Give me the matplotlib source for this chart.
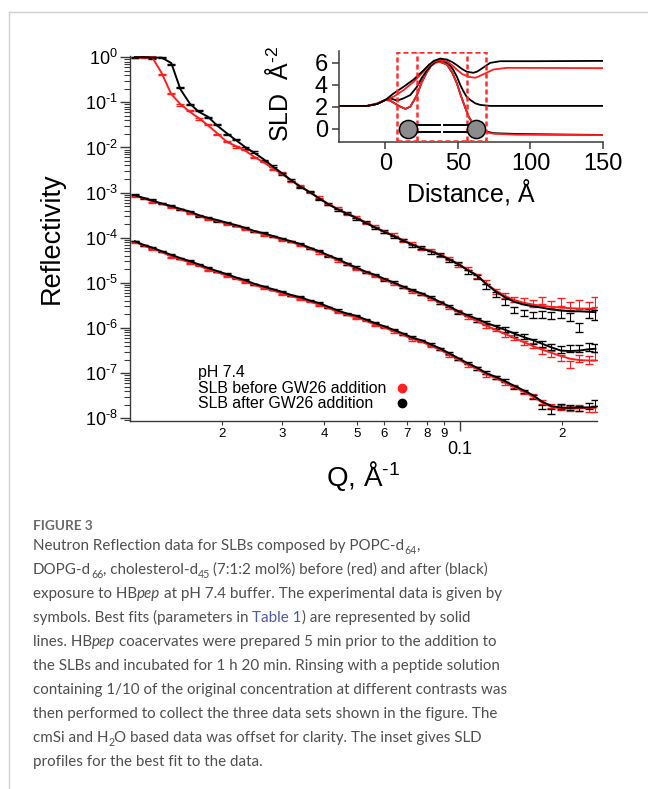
import numpy as np
import matplotlib
matplotlib.use('Agg')
import matplotlib.pyplot as plt
from matplotlib.ticker import FixedLocator, FixedFormatter, LogLocator, NullFormatter, FuncFormatter
from matplotlib.patches import Rectangle
from matplotlib.lines import Line2D
from matplotlib.mathtext import MathTextParser

# ---------------- data ----------------
# momentum transfer, 1/A
q = [0.0111, 0.0118, 0.0125, 0.0133, 0.0142, 0.0151, 0.0161, 0.0171, 0.0182, 0.0194,
     0.0207, 0.0220, 0.0234, 0.0249, 0.0265, 0.0282, 0.0300, 0.0320, 0.0340, 0.0362,
     0.0386, 0.0411, 0.0437, 0.0466, 0.0496, 0.0528, 0.0562, 0.0599, 0.0638, 0.0679,
     0.0723, 0.0770, 0.0820, 0.0873, 0.0930, 0.0990, 0.1054, 0.1123, 0.1196, 0.1273,
     0.1356, 0.1444, 0.1538, 0.1638, 0.1744, 0.1857, 0.1978, 0.2106, 0.2243, 0.2389,
     0.2500]

# log10(reflectivity), D2O contrast
d2o_after_data = [-0.01, 0.01, -0.02, 0.00, -0.16, -0.68, -1.05, -1.19, -1.34, -1.50,
                  -1.71, -1.83, -2.01, -2.10, -2.28, -2.41, -2.59, -2.72, -2.89, -2.98,
                  -3.15, -3.25, -3.39, -3.46, -3.58, -3.66, -3.79, -3.86, -3.98, -4.05,
                  -4.17, -4.22, -4.33, -4.37, -4.51, -4.57, -4.76, -4.86, -5.08, -5.25,
                  -5.42, -5.60, -5.67, -5.70, -5.69, -5.71, -5.68, -5.74, -5.98, -5.66,
                  -5.70]
d2o_after_fit = [0.00, 0.00, -0.01, -0.01, -0.13, -0.71, -1.03, -1.21, -1.32, -1.52,
                 -1.69, -1.84, -1.99, -2.12, -2.26, -2.42, -2.57, -2.73, -2.87, -2.99,
                 -3.13, -3.26, -3.37, -3.47, -3.56, -3.67, -3.77, -3.87, -3.96, -4.06,
                 -4.15, -4.24, -4.30, -4.38, -4.48, -4.59, -4.72, -4.84, -5.03, -5.19,
                 -5.32, -5.42, -5.48, -5.52, -5.55, -5.59, -5.61, -5.63, -5.63, -5.64,
                 -5.65]
d2o_before_data = [0.00, -0.01, 0.01, -0.38, -0.80, -1.06, -1.19, -1.37, -1.49, -1.71,
                   -1.86, -1.99, -2.05, -2.23, -2.31, -2.48, -2.57, -2.75, -2.84, -3.00,
                   -3.10, -3.26, -3.34, -3.47, -3.53, -3.67, -3.74, -3.87, -3.93, -4.06,
                   -4.12, -4.24, -4.27, -4.39, -4.45, -4.60, -4.68, -4.84, -4.98, -5.18,
                   -5.28, -5.36, -5.40, -5.45, -5.38, -5.47, -5.42, -5.50, -5.46, -5.52,
                   -5.40]
d2o_before_fit = [0.00, 0.00, -0.01, -0.35, -0.82, -1.04, -1.21, -1.35, -1.51, -1.69,
                  -1.88, -1.97, -2.07, -2.21, -2.33, -2.46, -2.59, -2.73, -2.86, -2.99,
                  -3.12, -3.25, -3.36, -3.46, -3.55, -3.66, -3.76, -3.86, -3.95, -4.05,
                  -4.14, -4.23, -4.29, -4.37, -4.47, -4.58, -4.71, -4.83, -5.02, -5.17,
                  -5.29, -5.38, -5.44, -5.48, -5.51, -5.53, -5.55, -5.56, -5.57, -5.57,
                  -5.58]

# cmSi contrast (offset)
cmsi_after_data = [-3.05, -3.13, -3.16, -3.25, -3.29, -3.38, -3.41, -3.52, -3.55, -3.63,
                   -3.66, -3.74, -3.77, -3.86, -3.89, -3.98, -4.01, -4.09, -4.13, -4.24,
                   -4.29, -4.41, -4.46, -4.58, -4.65, -4.77, -4.81, -4.93, -4.98, -5.10,
                   -5.15, -5.25, -5.31, -5.44, -5.51, -5.65, -5.71, -5.82, -5.88, -5.98,
                   -6.03, -6.14, -6.19, -6.29, -6.35, -6.42, -6.47, -6.45, -6.44, -6.41,
                   -6.43]
cmsi_after_fit = [-3.06, -3.12, -3.18, -3.24, -3.30, -3.36, -3.42, -3.50, -3.56, -3.61,
                  -3.67, -3.72, -3.78, -3.85, -3.90, -3.96, -4.02, -4.08, -4.14, -4.22,
                  -4.30, -4.39, -4.47, -4.57, -4.66, -4.75, -4.82, -4.91, -4.99, -5.08,
                  -5.16, -5.23, -5.32, -5.42, -5.52, -5.63, -5.72, -5.80, -5.89, -5.96,
                  -6.04, -6.12, -6.20, -6.27, -6.35, -6.43, -6.50, -6.51, -6.50, -6.47,
                  -6.46]
cmsi_before_data = [-3.08, -3.12, -3.21, -3.24, -3.33, -3.37, -3.46, -3.51, -3.60, -3.62,
                    -3.71, -3.73, -3.82, -3.86, -3.94, -3.97, -4.06, -4.09, -4.18, -4.23,
                    -4.34, -4.40, -4.51, -4.58, -4.70, -4.76, -4.86, -4.92, -5.03, -5.09,
                    -5.20, -5.24, -5.36, -5.43, -5.56, -5.64, -5.77, -5.84, -5.97, -6.03,
                    -6.15, -6.21, -6.33, -6.38, -6.50, -6.58, -6.66, -6.80, -6.66, -6.70,
                    -6.62]
cmsi_before_fit = [-3.07, -3.13, -3.19, -3.25, -3.31, -3.38, -3.44, -3.52, -3.58, -3.63,
                   -3.69, -3.74, -3.80, -3.87, -3.92, -3.98, -4.04, -4.10, -4.16, -4.24,
                   -4.32, -4.41, -4.49, -4.59, -4.68, -4.77, -4.84, -4.93, -5.01, -5.10,
                   -5.18, -5.25, -5.34, -5.44, -5.54, -5.65, -5.75, -5.85, -5.95, -6.04,
                   -6.13, -6.22, -6.31, -6.40, -6.48, -6.55, -6.62, -6.68, -6.71, -6.72,
                   -6.72]

# H2O contrast (offset)
h2o_after_data = [-4.07, -4.17, -4.21, -4.31, -4.37, -4.46, -4.51, -4.60, -4.66, -4.75,
                  -4.80, -4.89, -4.93, -5.03, -5.07, -5.15, -5.19, -5.28, -5.31, -5.40,
                  -5.44, -5.54, -5.60, -5.69, -5.72, -5.82, -5.88, -5.97, -6.03, -6.13,
                  -6.20, -6.28, -6.35, -6.46, -6.55, -6.68, -6.77, -6.90, -6.99, -7.10,
                  -7.17, -7.31, -7.40, -7.53, -7.75, -7.85, -7.74, -7.76, -7.78, -7.72,
                  -7.66]
h2o_after_fit = [-4.08, -4.16, -4.22, -4.30, -4.38, -4.45, -4.52, -4.59, -4.67, -4.74,
                 -4.81, -4.88, -4.94, -5.02, -5.08, -5.14, -5.20, -5.27, -5.32, -5.39,
                 -5.45, -5.53, -5.61, -5.68, -5.73, -5.81, -5.89, -5.96, -6.04, -6.12,
                 -6.21, -6.27, -6.36, -6.45, -6.56, -6.67, -6.78, -6.88, -7.00, -7.08,
                 -7.18, -7.28, -7.38, -7.49, -7.63, -7.73, -7.76, -7.77, -7.76, -7.76,
                 -7.75]
h2o_before_data = [-4.10, -4.17, -4.26, -4.31, -4.43, -4.47, -4.57, -4.61, -4.72, -4.76,
                   -4.86, -4.90, -4.99, -5.04, -5.13, -5.16, -5.25, -5.29, -5.37, -5.41,
                   -5.50, -5.55, -5.66, -5.70, -5.78, -5.83, -5.94, -5.98, -6.09, -6.14,
                   -6.26, -6.29, -6.41, -6.47, -6.61, -6.69, -6.83, -6.90, -7.05, -7.10,
                   -7.23, -7.30, -7.43, -7.51, -7.63, -7.72, -7.76, -7.79, -7.77, -7.80,
                   -7.78]
h2o_before_fit = [-4.09, -4.18, -4.24, -4.32, -4.41, -4.48, -4.55, -4.62, -4.70, -4.77,
                  -4.84, -4.91, -4.97, -5.05, -5.11, -5.17, -5.23, -5.30, -5.35, -5.42,
                  -5.48, -5.56, -5.64, -5.71, -5.76, -5.84, -5.92, -5.99, -6.07, -6.15,
                  -6.24, -6.30, -6.39, -6.48, -6.59, -6.70, -6.81, -6.91, -7.03, -7.11,
                  -7.21, -7.31, -7.41, -7.52, -7.65, -7.75, -7.78, -7.79, -7.78, -7.77,
                  -7.77]

# relative error of the reflectivity points
rel_err = [0.03, 0.03, 0.03, 0.03, 0.03, 0.03, 0.03, 0.03, 0.03, 0.03,
           0.03, 0.03, 0.03, 0.03, 0.03, 0.03, 0.04, 0.04, 0.04, 0.04,
           0.04, 0.04, 0.05, 0.05, 0.05, 0.05, 0.05, 0.06, 0.06, 0.06,
           0.07, 0.07, 0.07, 0.08, 0.08, 0.09, 0.09, 0.10, 0.11, 0.12,
           0.13, 0.14, 0.15, 0.16, 0.18, 0.19, 0.20, 0.21, 0.22, 0.23,
           0.25]
err_scale = {'D2O': 1.0, 'cmSi': 0.8, 'H2O': 0.6}

# SLD profiles for the inset (distance in A, SLD in 1e-6 A^-2)
z_d2o_after = [-32, -12.6, -5.7, 0, 5.7, 12.6, 19.5, 26.4, 30, 33.3, 37.8, 42.4, 46, 49.3,
               53, 56.2, 60.8, 63.5, 66.5, 72.2, 79.1, 102, 150]
sld_d2o_after = [2.07, 2.07, 2.25, 2.61, 3.21, 3.81, 4.47, 5.31, 5.8, 6.15, 6.36, 6.27, 6.05, 5.76,
                 5.4, 5.16, 5.07, 5.2, 5.46, 5.97, 6.12, 6.12, 6.15]
z_d2o_before = [-32, -12.6, -5.7, 0, 5.7, 12.6, 19.5, 26.4, 30, 33.3, 37.8, 42.4, 46, 49.3,
                53, 57.3, 61.9, 64.5, 67.7, 74.5, 83.7, 150]
sld_d2o_before = [2.07, 2.07, 2.31, 2.61, 2.91, 3.51, 4.26, 5.2, 5.7, 6.06, 6.24, 6.1, 5.75, 5.35,
                  4.95, 4.71, 4.62, 4.75, 4.95, 5.37, 5.52, 5.49]
z_cmsi_after = [-32, -12.6, -5.7, 0, 3.4, 8, 12.6, 17.2, 21.8, 25, 28.7, 31.5, 34.4, 39, 43.6,
                46.5, 49.3, 51.5, 53.9, 56, 58.5, 62, 65.4, 72.2, 150]
sld_cmsi_after = [2.07, 2.07, 2.25, 2.61, 2.76, 2.55, 2.76, 3.06, 3.81, 4.6, 5.31, 5.75, 6.06, 6.21, 5.91,
                  5.4, 4.71, 4.0, 3.36, 2.9, 2.61, 2.3, 2.16, 2.07, 2.07]
z_h2o_before = [-32, -12.6, -5.7, 0, 3.4, 9.2, 13.8, 17.2, 21.8, 25, 28.7, 31.5, 34.4, 37.8, 42.4,
                46, 49.3, 51.5, 53.9, 57.3, 60.8, 66.5, 74.5, 90.6, 150]
sld_h2o_before = [2.07, 2.07, 2.25, 2.61, 2.55, 2.07, 1.80, 2.01, 3.06, 4.2, 5.16, 5.7, 6.0, 6.06, 5.82,
                  5.1, 4.11, 3.2, 2.31, 1.11, 0.36, -0.24, -0.45, -0.54, -0.57]
z_h2o_after = [-32, -12.6, -5.7, 0, 3.4, 9.2, 13.8, 17.2, 21.8, 25, 28.7, 31.5, 34.4, 37.8, 42.4,
               46, 49.3, 51.5, 53.9, 57.3, 60.8, 66.5, 74.5, 90.6, 120, 150]
sld_h2o_after = [2.07, 2.07, 2.25, 2.61, 2.55, 2.07, 1.80, 2.01, 3.06, 4.2, 5.16, 5.7, 6.0, 6.06, 5.82,
                 5.1, 4.11, 3.2, 2.31, 1.11, 0.40, -0.15, -0.40, -0.47, -0.52, -0.56]

# bilayer cartoon / region boxes (inset units)
head_z = [15.4, 62.6]
box_edges = [8, 22, 56, 69]

legend_labels = ['SLB before GW26 addition', 'SLB after GW26 addition']

RED = '#ff1f1f'
BLK = '#000000'
AX_COL = '#3a3a3a'

plt.rcParams.update({
    'font.family': 'Liberation Sans',
    'mathtext.fontset': 'custom',
    'mathtext.rm': 'Liberation Sans',
    'mathtext.it': 'Liberation Sans:italic',
    'mathtext.bf': 'Liberation Sans:bold',
    'axes.linewidth': 1.0,
})

# short hyphen in superscripts, like the original
try:
    MathTextParser('path').parse(r'$10^{\text{-}3}$')
    MINUS = r'\text{-}'
except Exception:
    MINUS = '-'


def pow10(v, pos=None):
    n = int(round(np.log10(v)))
    return r'$10^{%s%d}$' % (MINUS if n < 0 else '', abs(n))


W, H = 648, 789
fig = plt.figure(figsize=(W / 100, H / 100), dpi=100)

# ---------------- main reflectivity plot ----------------
ax = fig.add_axes([130 / W, 1 - 421 / H, 467 / W, 365.4 / H])
ax.set_xscale('log')
ax.set_yscale('log')

qa = np.array(q)
sets = [
    ('D2O', d2o_before_data, d2o_after_data, d2o_before_fit, d2o_after_fit),
    ('cmSi', cmsi_before_data, cmsi_after_data, cmsi_before_fit, cmsi_after_fit),
    ('H2O', h2o_before_data, h2o_after_data, h2o_before_fit, h2o_after_fit),
]
for name, bdat, adat, bfit, afit in sets:
    for dat, col in [(bdat, RED), (adat, BLK)]:
        r = 10 ** np.array(dat)
        ax.errorbar(qa, r, yerr=r * np.array(rel_err) * err_scale[name], fmt='none',
                    ecolor=col, elinewidth=0.8, capsize=2.8, capthick=1.0)
for name, bdat, adat, bfit, afit in sets:
    ax.plot(qa, 10 ** np.array(bfit), color=RED, lw=1.4)
    ax.plot(qa, 10 ** np.array(afit), color=BLK, lw=1.4)

ax.set_xlim(0.01074, 0.2526)
ax.set_ylim(10 ** -8.06, 10 ** 0.035)
for s in ['top', 'right']:
    ax.spines[s].set_visible(False)
for s in ['left', 'bottom']:
    ax.spines[s].set_color(AX_COL)

ax.yaxis.set_major_locator(LogLocator(base=10, numticks=20))
ax.yaxis.set_major_formatter(FuncFormatter(pow10))
ax.yaxis.set_minor_locator(LogLocator(base=10, subs=np.arange(2, 10), numticks=20))
ax.yaxis.set_minor_formatter(NullFormatter())
ax.tick_params(axis='y', which='major', length=7, width=1, color=AX_COL, labelsize=13, pad=2)
ax.tick_params(axis='y', which='minor', length=4, width=0.8, color=AX_COL)

ax.xaxis.set_major_locator(FixedLocator([0.1]))
ax.xaxis.set_major_formatter(FixedFormatter(['0.1']))
ax.xaxis.set_minor_locator(FixedLocator([0.02, 0.03, 0.04, 0.05, 0.06, 0.07, 0.08, 0.09, 0.2]))
ax.xaxis.set_minor_formatter(FixedFormatter(['2', '3', '4', '5', '6', '7', '8', '9', '2']))
ax.tick_params(axis='x', which='major', length=7, width=1, color=AX_COL, labelsize=13, pad=7.5)
ax.tick_params(axis='x', which='minor', length=3, width=0.8, color=AX_COL, labelsize=9.5, pad=2)

ax.set_ylabel('Reflectivity', fontsize=19.5)
ax.yaxis.set_label_coords(-0.140, 0.5)
ax.set_xlabel(r'Q, $\mathrm{\AA}^{%s1}$' % MINUS, fontsize=20)
ax.xaxis.set_label_coords(0.5, -0.104)

# legend: text on the left, dots in a column on the right
fig.text(198 / W, 1 - 377 / H, 'pH 7.4', fontsize=11.4, va='baseline', ha='left')
for i, (lab, col) in enumerate(zip(legend_labels, [RED, BLK])):
    fig.text(198 / W, 1 - (392.7 + 15.8 * i) / H, lab, fontsize=11.4, va='baseline', ha='left')
    fig.add_artist(Line2D([401.7 / W], [1 - (387.6 + 15.6 * i) / H], ls='none', marker='o', ms=6,
                          color=col, mec=col, transform=fig.transFigure))

# ---------------- inset: SLD profiles ----------------
ax2 = fig.add_axes([339 / W, 1 - 142 / H, 264 / W, 90.5 / H])
ax2.plot(z_h2o_after, sld_h2o_after, color=BLK, lw=1.3)
ax2.plot(z_h2o_before, sld_h2o_before, color=RED, lw=1.3)
ax2.plot(z_cmsi_after, sld_cmsi_after, color=BLK, lw=1.3)
ax2.plot(z_d2o_before, sld_d2o_before, color=RED, lw=1.3)
ax2.plot(z_d2o_after, sld_d2o_after, color=BLK, lw=1.3)

# head / tail / head regions
ax2.add_patch(Rectangle((box_edges[0], -1.1), box_edges[3] - box_edges[0], 8.05, fill=False,
                        ec='#ff2a2a', lw=1.8, ls=(0, (2, 1.2)), zorder=3))
for zx in box_edges[1:3]:
    ax2.plot([zx, zx], [-1.1, 6.95], color='#ff2a2a', lw=1.8, ls=(0, (2, 1.2)), zorder=3)

# lipid cartoon
for yt in [0.3, -0.3]:
    ax2.plot([head_z[0], 37.6], [yt, yt], color=BLK, lw=1.4, zorder=4)
    ax2.plot([40.4, head_z[1]], [yt, yt], color=BLK, lw=1.4, zorder=4)
ax2.scatter(head_z, [0, 0], s=170, c='#8c8c8c', edgecolors=BLK, linewidths=1.1, zorder=5)

ax2.set_xlim(-32, 150)
ax2.set_ylim(-1.2, 7.0)
ax2.set_xticks([0, 50, 100, 150])
ax2.set_yticks([0, 2, 4, 6])
for s in ['top', 'right']:
    ax2.spines[s].set_visible(False)
for s in ['left', 'bottom']:
    ax2.spines[s].set_color(AX_COL)
    ax2.spines[s].set_linewidth(1.1)
ax2.tick_params(length=5, width=1.1, color=AX_COL, labelsize=17, pad=3)
ax2.set_ylabel(r'SLD  $\mathrm{\AA}^{%s2}$' % MINUS, fontsize=18)
ax2.yaxis.set_label_coords(-0.174, 0.53)
ax2.set_xlabel(r'Distance, $\mathrm{\AA}$', fontsize=18)
ax2.xaxis.set_label_coords(0.5, -0.383)

# ---------------- page frame ----------------
fig.add_artist(Line2D([9 / W, 9 / W], [0, 1 - 12 / H], color='#d0d0d0', lw=1, transform=fig.transFigure))
fig.add_artist(Line2D([9 / W, 1], [1 - 12 / H, 1 - 12 / H], color='#d0d0d0', lw=1, transform=fig.transFigure))

# ---------------- caption ----------------
CAP_COL = '#4f4f4f'
LINK_COL = '#4a5aa8'
CAP_FONT = 'Lato'
renderer = fig.canvas.get_renderer()

caption = [
    [("Neutron Reflection data for SLBs composed by POPC-d", 'n', False), ("64", 'sub', False), (",", 'n', False)],
    [("DOPG-d", 'n', False), ("66", 'sub', False), (", cholesterol-d", 'n', False), ("45", 'sub', False),
     ("(7:1:2 mol%) before (red) and after (black)", 'n', True)],
    [("exposure to HB", 'n', False), ("pep", 'it', False), ("at pH 7.4 buffer. The experimental data is given by", 'n', True)],
    [("symbols. Best fits (parameters in", 'n', False), ("Table 1", 'link', True), (") are represented by solid", 'n', False)],
    [("lines. HB", 'n', False), ("pep", 'it', False), ("coacervates were prepared 5 min prior to the addition to", 'n', True)],
    [("the SLBs and incubated for 1 h 20 min. Rinsing with a peptide solution", 'n', False)],
    [("containing 1/10 of the original concentration at different contrasts was", 'n', False)],
    [("then performed to collect the three data sets shown in the figure. The", 'n', False)],
    [("cmSi and H", 'n', False), ("2", 'sub', False), ("O based data was offset for clarity. The inset gives SLD", 'n', False)],
    [("profiles for the best fit to the data.", 'n', False)],
]


def text_width(s, **kw):
    t = fig.text(0, 0, s, **kw)
    w = t.get_window_extent(renderer).width
    t.remove()
    return w


# size the caption font so that a full line spans the text column
probe = 12.0
w_probe = text_width("exposure to HBpep at pH 7.4 buffer. The experimental data is given by",
                     family=CAP_FONT, fontsize=probe)
cap_fs = probe * 467 / w_probe
space_w = text_width("x x", family=CAP_FONT, fontsize=cap_fs) - text_width("xx", family=CAP_FONT, fontsize=cap_fs)

fig.text(33 / W, 1 - 530 / H, "FIGURE 3", family=CAP_FONT, fontsize=cap_fs * 0.9,
         weight='bold', color='#6a6a6a', va='baseline', ha='left')

for i, line in enumerate(caption):
    x = 33.0
    base = 550 + 24 * i
    for txt, kind, sp in line:
        if sp:
            x += space_w
        kw = dict(family=CAP_FONT, fontsize=cap_fs, color=CAP_COL, va='baseline', ha='left')
        dy = 0
        if kind == 'it':
            kw['style'] = 'italic'
        elif kind == 'link':
            kw['color'] = LINK_COL
        elif kind == 'sub':
            kw['fontsize'] = cap_fs * 0.7
            dy = 3.5
        t = fig.text(x / W, 1 - (base + dy) / H, txt, **kw)
        x += t.get_window_extent(renderer).width - (0.6 if kind == 'sub' else 0)

fig.savefig('out.png', dpi=100)
